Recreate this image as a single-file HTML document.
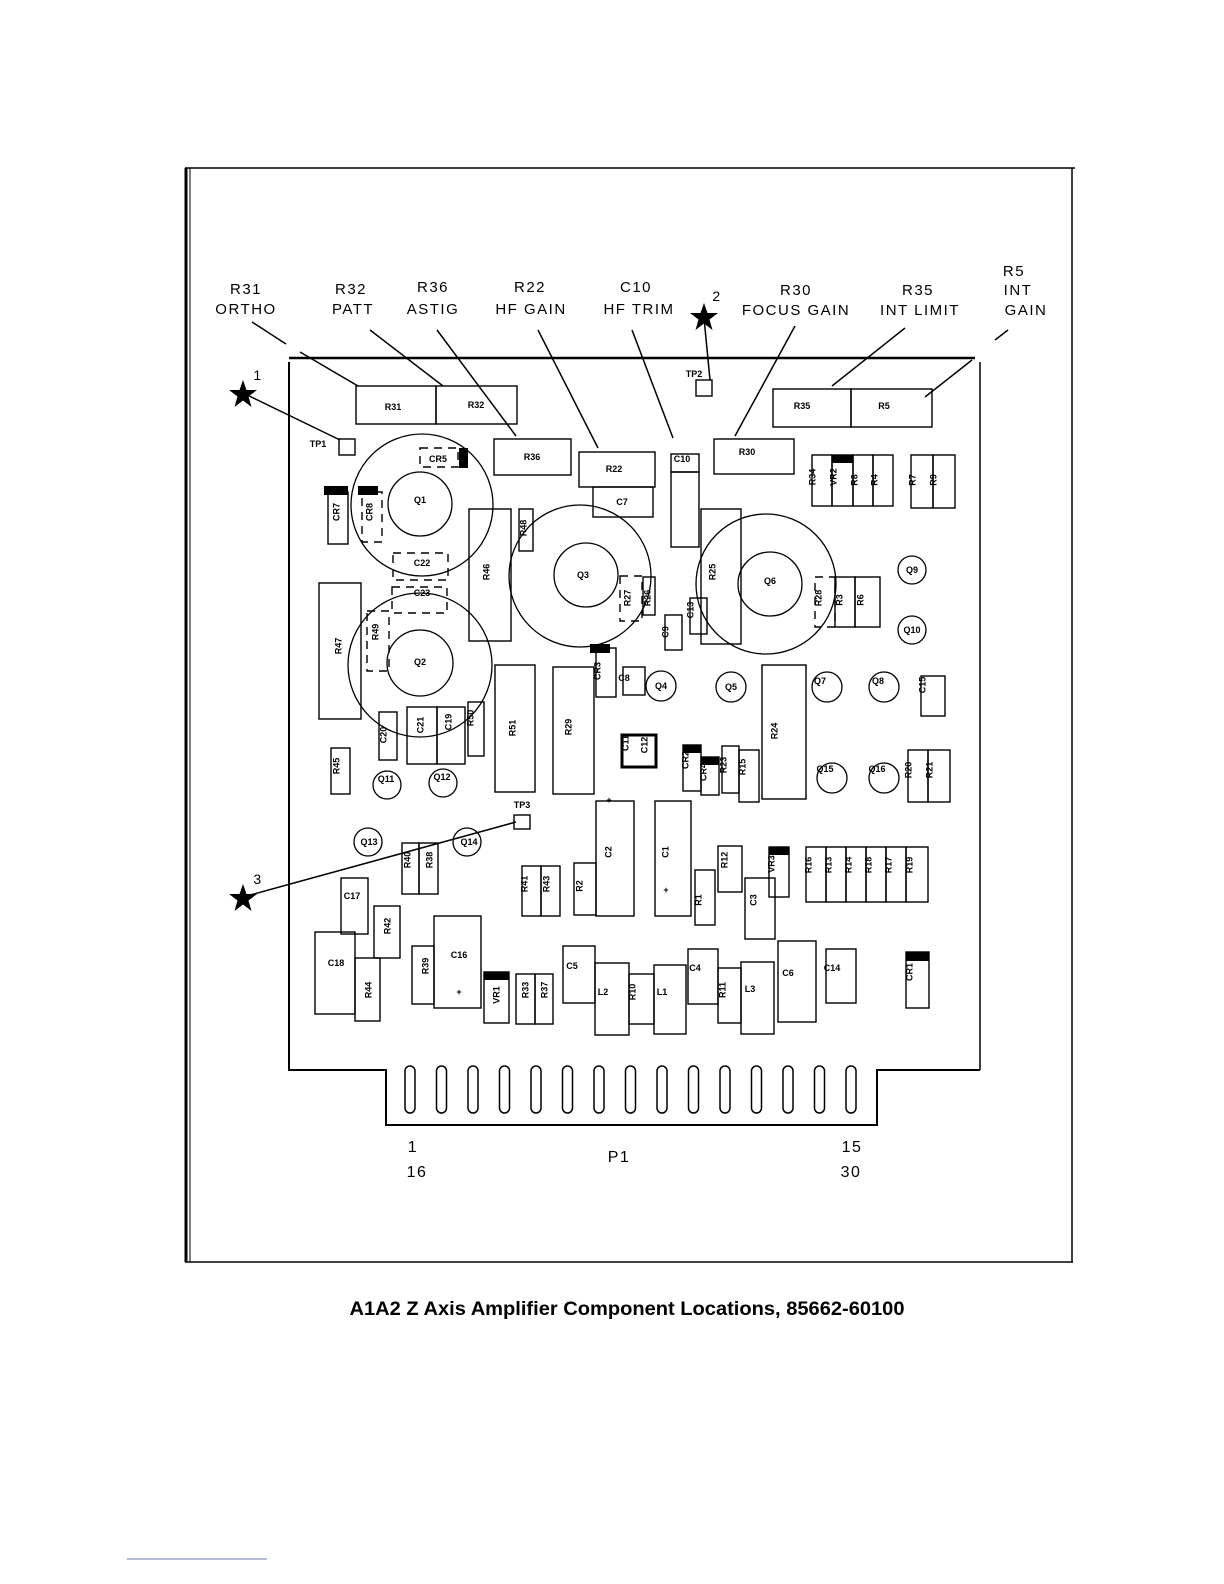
<!DOCTYPE html>
<html><head><meta charset="utf-8"><style>
html,body{margin:0;padding:0;background:#fff;width:1224px;height:1584px;overflow:hidden}
svg{display:block}
text{font-family:"Liberation Sans",sans-serif;fill:#000}
.c rect{fill:none;stroke:#000;stroke-width:1.4}
.c circle{fill:none;stroke:#000;stroke-width:1.3}
.d{stroke-dasharray:8 6}
.s{font-size:9px;font-weight:bold}
.l{font-size:15px;letter-spacing:1.5px}
</style></head><body>
<svg width="1224" height="1584" viewBox="0 0 1224 1584" xmlns="http://www.w3.org/2000/svg">
<!-- frame -->
<g fill="none" stroke="#000">
<line x1="186" y1="168" x2="186" y2="1262" stroke-width="3"/>
<line x1="190" y1="168" x2="190" y2="1262" stroke-width="1"/>
<line x1="185" y1="168" x2="1075" y2="168" stroke-width="1.5"/>
<line x1="1072" y1="168" x2="1072" y2="1262" stroke-width="1.5"/>
<line x1="185" y1="1262" x2="1073" y2="1262" stroke-width="1.5"/>
<!-- board -->
<line x1="289" y1="358" x2="975" y2="358" stroke-width="2.5"/>
<line x1="289" y1="362" x2="289" y2="1030" stroke-width="2"/>
<line x1="980" y1="362" x2="980" y2="1070" stroke-width="1.5"/>
<polyline points="289,1030 289,1070 386,1070 386,1125 877,1125 877,1070 980,1070" stroke-width="2"/>
</g>
<!-- fingers -->
<g fill="none" stroke="#000" stroke-width="1.5">
<rect x="405" y="1066" width="10" height="47" rx="5"/><rect x="436.5" y="1066" width="10" height="47" rx="5"/><rect x="468" y="1066" width="10" height="47" rx="5"/><rect x="499.5" y="1066" width="10" height="47" rx="5"/><rect x="531" y="1066" width="10" height="47" rx="5"/><rect x="562.5" y="1066" width="10" height="47" rx="5"/><rect x="594" y="1066" width="10" height="47" rx="5"/><rect x="625.5" y="1066" width="10" height="47" rx="5"/><rect x="657" y="1066" width="10" height="47" rx="5"/><rect x="688.5" y="1066" width="10" height="47" rx="5"/><rect x="720" y="1066" width="10" height="47" rx="5"/><rect x="751.5" y="1066" width="10" height="47" rx="5"/><rect x="783" y="1066" width="10" height="47" rx="5"/><rect x="814.5" y="1066" width="10" height="47" rx="5"/><rect x="846" y="1066" width="10" height="47" rx="5"/>
</g>
<!-- top labels -->
<g class="l" text-anchor="middle">
<text x="246" y="294">R31</text><text x="246" y="314">ORTHO</text>
<text x="351" y="294">R32</text><text x="353" y="314">PATT</text>
<text x="433" y="292">R36</text><text x="433" y="314">ASTIG</text>
<text x="530" y="292">R22</text><text x="531" y="314">HF GAIN</text>
<text x="636" y="292">C10</text><text x="639" y="314">HF TRIM</text>
<text x="796" y="295">R30</text><text x="796" y="315">FOCUS GAIN</text>
<text x="918" y="295">R35</text><text x="920" y="315">INT LIMIT</text>
<text x="1014" y="276">R5</text><text x="1018" y="295">INT</text><text x="1026" y="315">GAIN</text>
<text x="717" y="301" style="font-size:14px">2</text>
<text x="258" y="380" style="font-size:14px">1</text>
<text x="258" y="884" style="font-size:14px">3</text>
</g>
<!-- stars -->
<g fill="#000">
<polygon points="704,303 707.5,313 718,313 709.5,319.5 712.5,330 704,323.5 695.5,330 698.5,319.5 690,313 700.5,313"/>
<polygon points="243,380 246.5,390 257,390 248.5,396.5 251.5,407 243,400.5 234.5,407 237.5,396.5 229,390 239.5,390"/>
<polygon points="243,884 246.5,894 257,894 248.5,900.5 251.5,911 243,904.5 234.5,911 237.5,900.5 229,894 239.5,894"/>
</g>
<!-- leaders -->
<g stroke="#000" stroke-width="1.5" fill="none">
<line x1="252" y1="322" x2="286" y2="344"/><line x1="300" y1="352" x2="358" y2="386"/>
<line x1="370" y1="330" x2="443" y2="386"/>
<line x1="437" y1="330" x2="516" y2="436"/>
<line x1="538" y1="330" x2="598" y2="448"/>
<line x1="632" y1="330" x2="673" y2="438"/>
<line x1="704" y1="318" x2="710" y2="380"/>
<line x1="795" y1="326" x2="735" y2="436"/>
<line x1="905" y1="328" x2="832" y2="386"/>
<line x1="1008" y1="330" x2="995" y2="340"/><line x1="972" y1="360" x2="925" y2="397"/>
<line x1="243" y1="393" x2="340" y2="440"/>
<line x1="243" y1="897" x2="516" y2="822"/>
</g>
<g class="c">
<!-- circles Q -->
<circle cx="422" cy="505" r="71"/><circle cx="420" cy="504" r="32"/>
<circle cx="420" cy="665" r="72"/><circle cx="420" cy="663" r="33"/>
<circle cx="580" cy="576" r="71"/><circle cx="586" cy="575" r="32"/>
<circle cx="766" cy="584" r="70"/><circle cx="770" cy="584" r="32"/>
<circle cx="912" cy="570" r="14"/><circle cx="912" cy="630" r="14"/>
<circle cx="661" cy="686" r="15"/><circle cx="731" cy="687" r="15"/>
<circle cx="827" cy="687" r="15"/><circle cx="884" cy="687" r="15"/>
<circle cx="832" cy="778" r="15"/><circle cx="884" cy="778" r="15"/>
<circle cx="387" cy="785" r="14"/><circle cx="443" cy="783" r="14"/>
<circle cx="368" cy="842" r="14"/><circle cx="467" cy="842" r="14"/>
<!-- rects -->
<rect x="356" y="386" width="80" height="38"/><rect x="436" y="386" width="81" height="38"/>
<rect x="339" y="439" width="16" height="16"/><rect x="696" y="380" width="16" height="16"/><rect x="514" y="815" width="16" height="14"/>
<rect x="494" y="439" width="77" height="36"/><rect x="579" y="452" width="76" height="35"/>
<rect x="593" y="487" width="60" height="30"/>
<rect x="671" y="454" width="28" height="18"/><rect x="671" y="472" width="28" height="75"/>
<rect x="714" y="439" width="80" height="35"/>
<rect x="773" y="389" width="78" height="38"/><rect x="851" y="389" width="81" height="38"/>
<rect x="812" y="455" width="20" height="51"/><rect x="832" y="455" width="21" height="51"/><rect x="853" y="455" width="20" height="51"/><rect x="873" y="455" width="20" height="51"/>
<rect x="911" y="455" width="22" height="53"/><rect x="933" y="455" width="22" height="53"/>
<rect x="328" y="492" width="20" height="52"/>
<rect class="d" x="362" y="492" width="20" height="50"/>
<rect class="d" x="420" y="448" width="38" height="19"/>
<rect class="d" x="393" y="553" width="55" height="27"/>
<rect class="d" x="392" y="587" width="55" height="26"/>
<rect x="469" y="509" width="42" height="132"/>
<rect x="519" y="509" width="14" height="42"/>
<rect x="319" y="583" width="42" height="136"/>
<rect class="d" x="367" y="611" width="22" height="60"/>
<rect x="379" y="712" width="18" height="48"/><rect x="407" y="707" width="30" height="57"/><rect x="437" y="707" width="28" height="57"/><rect x="468" y="702" width="16" height="54"/>
<rect x="495" y="665" width="40" height="127"/><rect x="553" y="667" width="41" height="127"/>
<rect x="596" y="648" width="20" height="49"/><rect x="623" y="667" width="22" height="28"/>
<rect class="d" x="620" y="576" width="22" height="45"/>
<rect x="643" y="577" width="12" height="38"/><rect x="665" y="615" width="17" height="35"/><rect x="690" y="598" width="17" height="36"/>
<rect x="701" y="509" width="40" height="135"/>
<rect class="d" x="815" y="577" width="20" height="50"/><rect x="835" y="577" width="20" height="50"/><rect x="855" y="577" width="25" height="50"/>
<rect x="921" y="676" width="24" height="40"/>
<rect x="622" y="735" width="34" height="32" style="stroke-width:3"/>
<rect x="762" y="665" width="44" height="134"/>
<rect x="683" y="745" width="18" height="46"/><rect x="701" y="757" width="18" height="38"/><rect x="722" y="746" width="17" height="47"/><rect x="739" y="750" width="20" height="52"/>
<rect x="908" y="750" width="20" height="52"/><rect x="928" y="750" width="22" height="52"/>
<rect x="331" y="748" width="19" height="46"/>
<rect x="402" y="843" width="17" height="51"/><rect x="419" y="843" width="19" height="51"/>
<rect x="341" y="878" width="27" height="56"/><rect x="315" y="932" width="40" height="82"/><rect x="355" y="958" width="25" height="63"/>
<rect x="374" y="906" width="26" height="52"/><rect x="412" y="946" width="22" height="58"/><rect x="434" y="916" width="47" height="92"/>
<rect x="484" y="972" width="25" height="51"/><rect x="516" y="974" width="19" height="50"/><rect x="535" y="974" width="18" height="50"/>
<rect x="563" y="946" width="32" height="57"/><rect x="595" y="963" width="34" height="72"/><rect x="629" y="974" width="25" height="50"/><rect x="654" y="965" width="32" height="69"/>
<rect x="688" y="949" width="30" height="55"/><rect x="718" y="968" width="23" height="55"/><rect x="741" y="962" width="33" height="72"/><rect x="778" y="941" width="38" height="81"/><rect x="826" y="949" width="30" height="54"/><rect x="906" y="952" width="23" height="56"/>
<rect x="522" y="866" width="19" height="50"/><rect x="541" y="866" width="19" height="50"/><rect x="574" y="863" width="22" height="52"/>
<rect x="596" y="801" width="38" height="115"/><rect x="655" y="801" width="36" height="115"/>
<rect x="695" y="870" width="20" height="55"/><rect x="718" y="846" width="24" height="46"/><rect x="769" y="847" width="20" height="50"/><rect x="745" y="878" width="30" height="61"/>
<rect x="806" y="847" width="20" height="55"/><rect x="826" y="847" width="20" height="55"/><rect x="846" y="847" width="20" height="55"/><rect x="866" y="847" width="20" height="55"/><rect x="886" y="847" width="20" height="55"/><rect x="906" y="847" width="22" height="55"/>
</g>
<!-- black bands -->
<g fill="#000">
<rect x="324" y="486" width="24" height="9"/><rect x="358" y="486" width="20" height="9"/><rect x="459" y="448" width="9" height="20"/>
<rect x="590" y="644" width="20" height="9"/><rect x="832" y="455" width="21" height="8"/><rect x="683" y="745" width="18" height="8"/><rect x="701" y="757" width="18" height="8"/>
<rect x="769" y="847" width="20" height="8"/><rect x="484" y="972" width="25" height="8"/><rect x="906" y="952" width="23" height="9"/>
</g>
<!-- small labels horizontal -->
<g class="s" text-anchor="middle">
<text x="393" y="410">R31</text><text x="476" y="408">R32</text><text x="318" y="447">TP1</text><text x="694" y="377">TP2</text><text x="522" y="808">TP3</text>
<text x="532" y="460">R36</text><text x="614" y="472">R22</text><text x="622" y="505">C7</text><text x="682" y="462">C10</text><text x="747" y="455">R30</text>
<text x="802" y="409">R35</text><text x="884" y="409">R5</text>
<text x="438" y="462">CR5</text><text x="420" y="503">Q1</text><text x="420" y="665">Q2</text><text x="583" y="578">Q3</text><text x="770" y="584">Q6</text>
<text x="422" y="566">C22</text><text x="422" y="596">C23</text>
<text x="912" y="573">Q9</text><text x="912" y="633">Q10</text><text x="661" y="689">Q4</text><text x="731" y="690">Q5</text><text x="820" y="684">Q7</text><text x="878" y="684">Q8</text>
<text x="825" y="772">Q15</text><text x="877" y="772">Q16</text><text x="386" y="782">Q11</text><text x="442" y="780">Q12</text><text x="369" y="845">Q13</text><text x="469" y="845">Q14</text>
<text x="624" y="681">C8</text><text x="352" y="899">C17</text><text x="336" y="966">C18</text><text x="459" y="958">C16</text><text x="459" y="995">+</text>
<text x="572" y="969">C5</text><text x="603" y="995">L2</text><text x="662" y="995">L1</text><text x="695" y="971">C4</text><text x="750" y="992">L3</text><text x="788" y="976">C6</text><text x="832" y="971">C14</text>
<text x="609" y="803">+</text><text x="666" y="893">+</text>
</g>
<!-- vertical labels -->
<g class="s" text-anchor="middle" dominant-baseline="middle">
<text transform="translate(337,512) rotate(-90)">CR7</text><text transform="translate(370,512) rotate(-90)">CR8</text>
<text transform="translate(487,572) rotate(-90)">R46</text><text transform="translate(524,528) rotate(-90)">R48</text>
<text transform="translate(339,646) rotate(-90)">R47</text><text transform="translate(376,632) rotate(-90)">R49</text>
<text transform="translate(384,735) rotate(-90)">C20</text><text transform="translate(421,725) rotate(-90)">C21</text><text transform="translate(449,722) rotate(-90)">C19</text><text transform="translate(471,718) rotate(-90)">R50</text>
<text transform="translate(513,728) rotate(-90)">R51</text><text transform="translate(569,727) rotate(-90)">R29</text><text transform="translate(598,671) rotate(-90)">CR3</text>
<text transform="translate(628,598) rotate(-90)">R27</text><text transform="translate(648,598) rotate(-90)">R26</text><text transform="translate(666,632) rotate(-90)">C9</text><text transform="translate(691,610) rotate(-90)">C13</text>
<text transform="translate(713,572) rotate(-90)">R25</text><text transform="translate(819,598) rotate(-90)">R28</text><text transform="translate(840,600) rotate(-90)">R3</text><text transform="translate(861,600) rotate(-90)">R6</text>
<text transform="translate(813,477) rotate(-90)">R34</text><text transform="translate(834,477) rotate(-90)">VR2</text><text transform="translate(855,480) rotate(-90)">R8</text><text transform="translate(875,480) rotate(-90)">R4</text>
<text transform="translate(913,480) rotate(-90)">R7</text><text transform="translate(934,480) rotate(-90)">R9</text>
<text transform="translate(923,685) rotate(-90)">C15</text><text transform="translate(626,743) rotate(-90)">C11</text><text transform="translate(645,745) rotate(-90)">C12</text>
<text transform="translate(775,731) rotate(-90)">R24</text><text transform="translate(686,760) rotate(-90)">CR2</text><text transform="translate(704,772) rotate(-90)">CR4</text><text transform="translate(724,765) rotate(-90)">R23</text><text transform="translate(743,767) rotate(-90)">R15</text>
<text transform="translate(909,770) rotate(-90)">R20</text><text transform="translate(930,770) rotate(-90)">R21</text><text transform="translate(337,766) rotate(-90)">R45</text>
<text transform="translate(408,860) rotate(-90)">R40</text><text transform="translate(430,860) rotate(-90)">R38</text>
<text transform="translate(388,926) rotate(-90)">R42</text><text transform="translate(369,990) rotate(-90)">R44</text><text transform="translate(426,966) rotate(-90)">R39</text>
<text transform="translate(497,995) rotate(-90)">VR1</text><text transform="translate(526,990) rotate(-90)">R33</text><text transform="translate(545,990) rotate(-90)">R37</text>
<text transform="translate(633,992) rotate(-90)">R10</text><text transform="translate(723,990) rotate(-90)">R11</text><text transform="translate(910,972) rotate(-90)">CR1</text>
<text transform="translate(525,884) rotate(-90)">R41</text><text transform="translate(547,884) rotate(-90)">R43</text><text transform="translate(580,886) rotate(-90)">R2</text>
<text transform="translate(609,852) rotate(-90)">C2</text><text transform="translate(666,852) rotate(-90)">C1</text>
<text transform="translate(699,900) rotate(-90)">R1</text><text transform="translate(725,860) rotate(-90)">R12</text><text transform="translate(772,864) rotate(-90)">VR3</text><text transform="translate(754,900) rotate(-90)">C3</text>
<text transform="translate(809,865) rotate(-90)">R16</text><text transform="translate(829,865) rotate(-90)">R13</text><text transform="translate(849,865) rotate(-90)">R14</text><text transform="translate(869,865) rotate(-90)">R18</text><text transform="translate(889,865) rotate(-90)">R17</text><text transform="translate(910,865) rotate(-90)">R19</text>
</g>
<!-- P1 labels -->
<g class="l" text-anchor="middle" style="font-size:16px">
<text x="413" y="1152">1</text><text x="417" y="1177">16</text><text x="619" y="1162">P1</text><text x="852" y="1152">15</text><text x="851" y="1177">30</text>
</g>
<text x="627" y="1315" text-anchor="middle" style="font-size:19px;font-weight:bold" textLength="555" lengthAdjust="spacingAndGlyphs">A1A2 Z Axis Amplifier Component Locations, 85662-60100</text>
<line x1="127" y1="1559" x2="267" y2="1559" stroke="#6a7ab0" stroke-width="1"/>
</svg>
</body></html>
